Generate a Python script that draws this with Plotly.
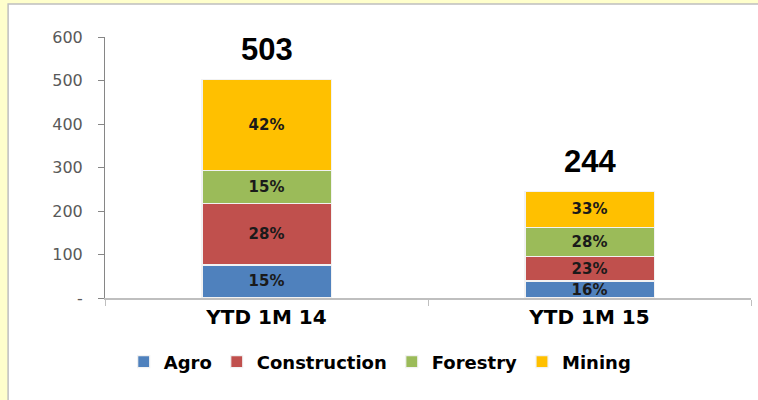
import plotly.graph_objects as go

categories = ["YTD 1M 14", "YTD 1M 15"]
series_names = ["Agro", "Construction", "Forestry", "Mining"]
agro = [76, 39]
construction = [141, 56]
forestry = [76, 68]
mining = [210, 81]
colors = ["#4F81BD", "#C0504D", "#9BBB59", "#FFC000"]
y_tickvals = [0, 100, 200, 300, 400, 500, 600]
y_ticktext = ["-", "100", "200", "300", "400", "500", "600"]

series_values = [agro, construction, forestry, mining]
totals = [sum(v) for v in zip(*series_values)]

fig = go.Figure()
for name, vals, col in zip(series_names, series_values, colors):
    pct = [f"{round(v / t * 100)}%" for v, t in zip(vals, totals)]
    fig.add_trace(go.Bar(
        x=categories, y=vals, name=name, width=0.4,
        marker=dict(color=col, line=dict(color="#F2F2F2", width=1.2)),
        text=pct, textposition="inside", insidetextanchor="middle",
        constraintext="none", textangle=0,
        textfont=dict(family="DejaVu Sans", size=15, color="#1A1A1A", weight="bold"),
    ))

for c, t in zip(categories, totals):
    fig.add_annotation(x=c, y=t, text=f"<b>{t}</b>", showarrow=False,
                       yanchor="middle", yshift=30,
                       font=dict(family="Liberation Sans", size=31, color="#000000"))

# white panel with grey border over a pale yellow page
fig.add_shape(type="rect", xref="paper", yref="paper",
              x0=-0.150, x1=1.05, y0=-0.45, y1=1.126,
              fillcolor="#FFFFFF", line=dict(color="#BFBFBF", width=1.5),
              layer="below")

fig.update_layout(
    barmode="stack",
    width=758, height=400,
    margin=dict(l=105, r=7, t=37, b=102),
    paper_bgcolor="#FFFFCC",
    plot_bgcolor="rgba(0,0,0,0)",
    showlegend=True,
    legend=dict(orientation="h", x=0.426, xanchor="center", y=-0.245, yanchor="middle",
                traceorder="normal",
                font=dict(family="DejaVu Sans", size=18, color="#000000", weight="bold"),
                bgcolor="rgba(0,0,0,0)"),
    yaxis=dict(range=[0, 600], tickvals=y_tickvals, ticktext=y_ticktext,
               showgrid=False, zeroline=False, showline=True, linecolor="#868686",
               linewidth=1, ticks="outside", ticklen=6, tickcolor="#868686",
               ticklabelstandoff=12,
               tickfont=dict(family="DejaVu Sans", size=16, color="#595959")),
    xaxis=dict(showgrid=False, showline=True, linecolor="#BFBFBF", linewidth=1.5,
               ticks="outside", tickson="boundaries", ticklen=6, tickcolor="#BFBFBF",
               tickfont=dict(family="DejaVu Sans", size=20, color="#000000", weight="bold")),
)

fig.write_html("out.html", config={"displayModeBar": False},
               post_script="document.body.style.margin='0';document.body.style.background='#FFFFCC';")
